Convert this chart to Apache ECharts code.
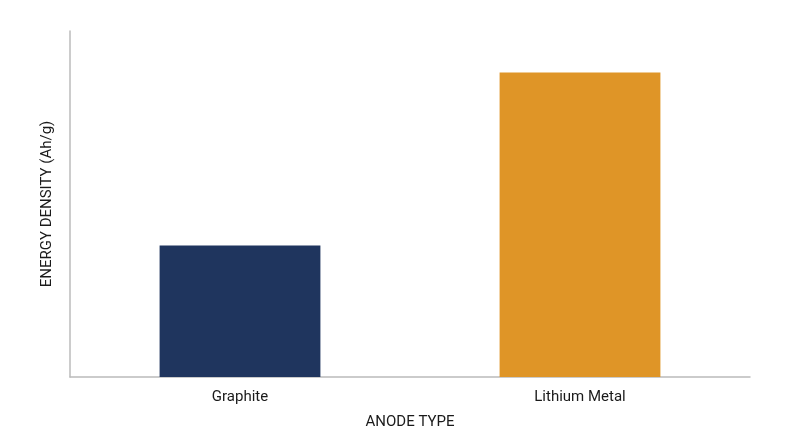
<!DOCTYPE html>
<html lang="en">
<head>
    <meta charset="UTF-8">
    <title>Anode energy density</title>
    <script src="https://cdn.jsdelivr.net/npm/echarts@6/dist/echarts.min.js"></script>
    <style>
        html, body { margin: 0; padding: 0; background: #fff; }
        #main { width: 800px; height: 447px; }
    </style>
</head>
<body>
<div id="main"></div>
<script type="text/javascript">

var categories = ['Graphite', 'Lithium Metal'];
var values = [38, 88];
var barColors = ['#1f355e', '#df9527'];

var myChart = echarts.init(document.getElementById('main'));

myChart.setOption({
    animation: false,
    textStyle: { fontFamily: 'Roboto' },
    grid: { left: 70, right: 50, top: 31, bottom: 70 },
    xAxis: {
        type: 'category',
        data: categories,
        name: 'ANODE TYPE',
        nameLocation: 'middle',
        nameGap: 38,
        nameTextStyle: { fontSize: 15, color: '#1a1a1a' },
        axisLine: { lineStyle: { color: '#bbbbbb', width: 1.5 } },
        axisTick: { show: false },
        axisLabel: { fontSize: 15, color: '#1a1a1a', margin: 13 }
    },
    yAxis: {
        type: 'value',
        min: 0,
        max: 100,
        name: 'ENERGY DENSITY (Ah/g)',
        nameLocation: 'middle',
        nameGap: 15,
        nameTextStyle: { fontSize: 15, color: '#1a1a1a' },
        axisLine: { show: true, lineStyle: { color: '#bbbbbb', width: 1.5 } },
        axisTick: { show: false },
        axisLabel: { show: false },
        splitLine: { show: false }
    },
    series: [{
        type: 'bar',
        barWidth: '47.3%',
        data: values.map(function (v, i) {
            return { value: v, itemStyle: { color: barColors[i] } };
        })
    }]
});

</script>
</body>
</html>
